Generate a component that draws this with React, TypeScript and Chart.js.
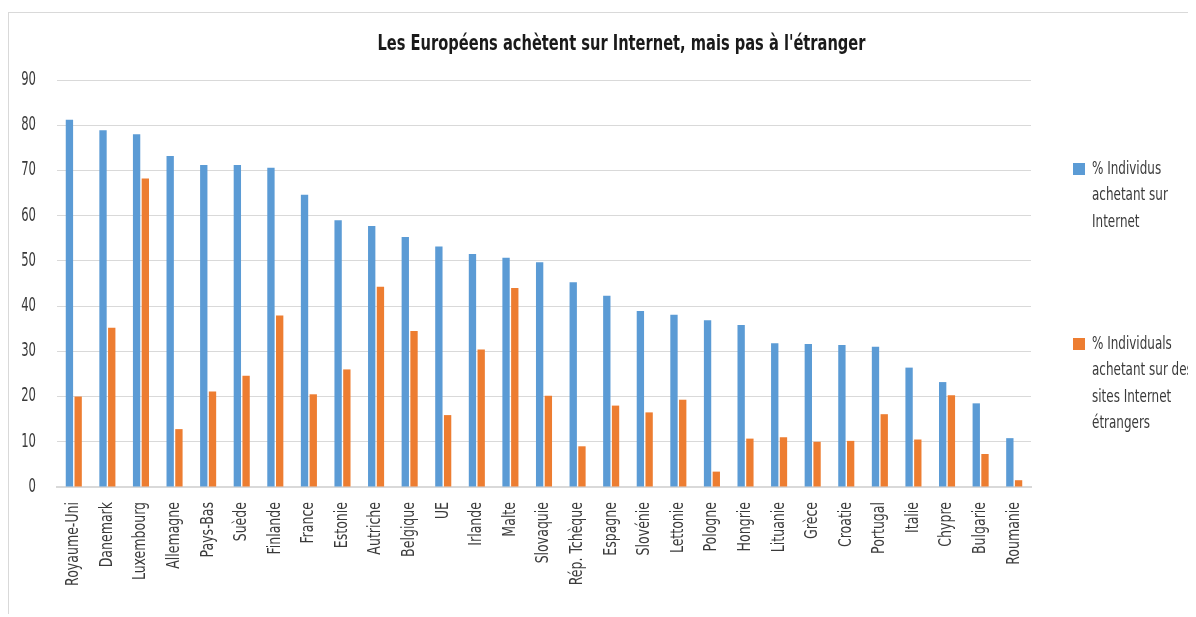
import React, { useEffect, useRef } from "react";
import { Chart, registerables } from "chart.js";

Chart.register(...registerables);

const title = "Les Européens achètent sur Internet, mais pas à l'étranger";

const countries = [
  "Royaume-Uni", "Danemark", "Luxembourg", "Allemagne", "Pays-Bas", "Suède", "Finlande",
  "France", "Estonie", "Autriche", "Belgique", "UE", "Irlande", "Malte", "Slovaquie",
  "Rép. Tchèque", "Espagne", "Slovénie", "Lettonie", "Pologne", "Hongrie", "Lituanie",
  "Grèce", "Croatie", "Portugal", "Italie", "Chypre", "Bulgarie", "Roumanie",
];

const internetBuyers = [
  81.2, 78.9, 78.0, 73.2, 71.2, 71.2, 70.6, 64.6, 59.0, 57.7, 55.3, 53.2, 51.5, 50.7, 49.7,
  45.3, 42.3, 38.9, 38.1, 36.9, 35.8, 31.8, 31.6, 31.4, 31.0, 26.4, 23.2, 18.5, 10.8,
];

const foreignBuyers = [
  20.0, 35.2, 68.2, 12.8, 21.1, 24.6, 37.9, 20.5, 26.0, 44.3, 34.5, 15.9, 30.4, 44.0, 20.2,
  9.0, 18.0, 16.5, 19.3, 3.4, 10.7, 11.0, 10.0, 10.2, 16.1, 10.5, 20.3, 7.3, 1.5,
];

const series1Lines = ["% Individus", "achetant sur", "Internet"];
const series2Lines = ["% Individuals", "achetant sur des", "sites Internet", "étrangers"];

const yTicks = [0, 10, 20, 30, 40, 50, 60, 70, 80, 90];

const FONT = "'DejaVu Sans Condensed', 'DejaVu Sans', sans-serif";
const BLUE = "#5b9bd5";
const ORANGE = "#ed7d31";
const TEXT = "#3a3a3a";

function narrowText(ctx: any, text: string, x: number, y: number, sx: number, rot = 0) {
  ctx.save();
  ctx.translate(x, y);
  if (rot) ctx.rotate(rot);
  ctx.scale(sx, 1);
  ctx.fillText(text, 0, 0);
  ctx.restore();
}

export default function App() {
  const ref = useRef<HTMLCanvasElement | null>(null);

  useEffect(() => {
    document.documentElement.style.overflow = "hidden";
    const canvas = ref.current;
    if (!canvas) return;

    const overlay = {
      id: "overlay",
      afterDraw(chart: any) {
        const ctx = chart.ctx;
        const area = chart.chartArea;
        const xs = chart.scales.x;
        const ys = chart.scales.y;
        ctx.save();
        // title
        ctx.fillStyle = "#1a1a1a";
        ctx.font = `bold 21px ${FONT}`;
        ctx.textAlign = "center";
        ctx.textBaseline = "middle";
        narrowText(ctx, title, 612.5, 32, 0.775);

        // y tick labels
        ctx.fillStyle = TEXT;
        ctx.font = `19px ${FONT}`;
        ctx.textAlign = "right";
        ctx.textBaseline = "middle";
        ys.ticks.forEach((t: any) => {
          narrowText(ctx, String(t.value), area.left - 21, ys.getPixelForValue(t.value), 0.68);
        });

        // x tick labels (rotated)
        ctx.font = `17px ${FONT}`;
        ctx.textAlign = "right";
        ctx.textBaseline = "middle";
        countries.forEach((c, i) => {
          narrowText(ctx, c, xs.getPixelForTick(i), area.bottom + 15, 0.82, -Math.PI / 2);
        });

        // legend
        ctx.font = `18px ${FONT}`;
        ctx.textAlign = "left";
        const entries = [
          { lines: series1Lines, color: BLUE, y: 156 },
          { lines: series2Lines, color: ORANGE, y: 331 },
        ];
        const sx = 1064;
        for (const e of entries) {
          ctx.fillStyle = e.color;
          ctx.fillRect(sx, e.y - 6, 12, 12);
          ctx.fillStyle = TEXT;
          e.lines.forEach((l, i) => narrowText(ctx, l, sx + 19, e.y + i * 26.5, 0.74));
        }
        ctx.restore();
      },
    };

    const chart = new Chart(canvas, {
      type: "bar",
      data: {
        labels: countries,
        datasets: [
          {
            label: series1Lines.join(" "),
            data: internetBuyers,
            backgroundColor: BLUE,
            borderWidth: 0,
            categoryPercentage: 0.52,
            barPercentage: 0.84,
          },
          {
            label: series2Lines.join(" "),
            data: foreignBuyers,
            backgroundColor: ORANGE,
            borderWidth: 0,
            categoryPercentage: 0.52,
            barPercentage: 0.84,
          },
        ],
      },
      plugins: [overlay],
      options: {
        animation: false,
        responsive: false,
        maintainAspectRatio: false,
        layout: { padding: { top: 67, right: 165, bottom: 0, left: 0 } },
        plugins: {
          legend: { display: false },
          title: { display: false },
          tooltip: { enabled: false },
        },
        scales: {
          x: {
            grid: { display: false, drawTicks: false },
            border: { display: true, color: "#d9d9d9", width: 2 },
            afterFit: (s: any) => { s.height = 130; },
            ticks: { display: false, autoSkip: false },
          },
          y: {
            min: 0,
            max: 90,
            afterFit: (s: any) => { s.width = 48; },
            afterBuildTicks: (s: any) => { s.ticks = yTicks.map((v) => ({ value: v })); },
            grid: { color: "#d9d9d9", lineWidth: 1, drawTicks: false },
            border: { display: false },
            ticks: { display: false },
          },
        },
      },
    });
    return () => chart.destroy();
  }, []);

  return (
    <div
      style={{
        position: "relative",
        top: 4,
        width: 1188,
        height: 605,
        borderTop: "1px solid #d9d9d9",
        borderLeft: "1px solid #d9d9d9",
        overflow: "hidden",
      }}
    >
      <canvas ref={ref} width={1187} height={604} style={{ display: "block" }} />
    </div>
  );
}
